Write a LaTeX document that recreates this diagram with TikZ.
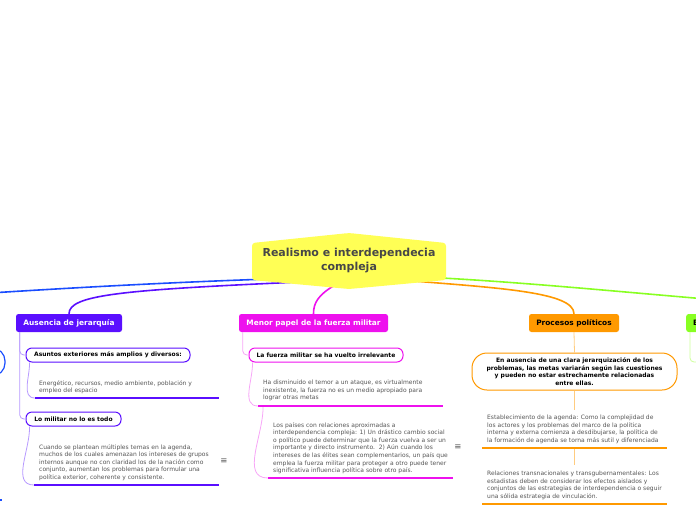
\documentclass[tikz,border=0pt]{standalone}
\usepackage{fontspec}
\setmainfont{DejaVu Sans}

\definecolor{amarillo}{HTML}{FFFF55}
\definecolor{azul}{HTML}{1A4DFF}
\definecolor{morado}{HTML}{5A0FFF}
\definecolor{moradoclaro}{HTML}{B79AFF}
\definecolor{fucsia}{HTML}{EE11EE}
\definecolor{fucsiaclaro}{HTML}{F7A6F7}
\definecolor{naranja}{HTML}{FF9900}
\definecolor{naranjaclaro}{HTML}{FFCC80}
\definecolor{verde}{HTML}{88FF22}
\definecolor{verdeclaro}{HTML}{CCFF99}
\definecolor{gristexto}{HTML}{555555}
\definecolor{gristitulo}{HTML}{474747}

\begin{document}
\begin{tikzpicture}[x=1pt, y=-1pt,
    tema/.style={rounded corners=2.5, minimum height=18, inner sep=0,
        font=\fontsize{7.4}{8}\bfseries, text=white},
    sub/.style={draw, fill=white, rounded corners=6, line width=1,
        minimum height=14, inner sep=0, font=\fontsize{6}{7}\bfseries},
    texto/.style={anchor=north west, inner sep=0, align=left, text=gristexto,
        font=\fontsize{6}{7.6}\selectfont},
    icono/.style={inner sep=0, text=gristexto, font=\fontsize{8.5}{9}\selectfont},
    linea/.style={line width=2.4},
    rama/.style={line width=1.6},
    enlace/.style={line width=0.8, rounded corners=4}]

    % --- 画布大小 (696 x 520) ---
    \useasboundingbox (0,0) rectangle (696,520);
    \clip (0,0) rectangle (696,520);

    % --- 1. 主题节点 ---
    \node[tema, fill=morado, minimum width=106] (aus) at (69,323) {Ausencia de jerarquía};
    \node[tema, fill=fucsia, minimum width=149] (mil) at (313.5,323) {Menor papel de la fuerza militar};
    \node[tema, fill=naranja, text=black, minimum width=90] (proc) at (574,323) {Procesos políticos};
    \node[tema, fill=verde, text=black, anchor=west, align=left, text width=52, inner xsep=7] (est) at (686,323) {E};

    % --- 2. 子节点 ---
    \node[sub, draw=morado, minimum width=164] (s1) at (108,355) {Asuntos exteriores más amplios y diversos:};
    \node[sub, draw=morado, minimum width=95] (s2) at (73.5,419) {Lo militar no lo es todo};
    \node[sub, draw=fucsia, minimum width=154] (s3) at (326,355) {La fuerza militar se ha vuelto irrelevante};
    \node[sub, draw=naranja, minimum width=205, minimum height=37, rounded corners=15,
        align=center, font=\fontsize{6}{7.6}\bfseries] (s4) at (574.5,371.5)
        {En ausencia de una clara jerarquización de los\\problemas, las metas variarán según las cuestiones\\y pueden no estar estrechamente relacionadas\\entre ellas.};

    % --- 3. 说明文字 ---
    \node[texto] (t1) at (39,380) {Energético, recursos, medio ambiente, población y\\empleo del espacio};
    \node[texto] (t2) at (39,444) {Cuando se plantean múltiples temas en la agenda,\\muchos de los cuales amenazan los intereses de grupos\\internos aunque no con claridad los de la nación como\\conjunto, aumentan los problemas para formular una\\política exterior, coherente y consistente.};
    \node[texto] (t3) at (263,380) {Ha disminuido el temor a un ataque, es virtualmente\\inexistente, la fuerza no es un medio apropiado para\\lograr otras metas};
    \node[texto] (t4) at (273,422) {Los países con relaciones aproximadas a\\interdependencia compleja: 1) Un drástico cambio social\\o político puede determinar que la fuerza vuelva a ser un\\importante y directo instrumento.\ \ 2) Aún cuando los\\intereses de las élites sean complementarios, un país que\\emplea la fuerza militar para proteger a otro puede tener\\significativa influencia política sobre otro país.};
    \node[texto] (t5) at (487,415) {Establecimiento de la agenda: Como la complejidad de\\los actores y los problemas del marco de la política\\interna y externa comienza a desdibujarse, la política de\\la formación de agenda se torna más sutil y diferenciada};
    \node[texto] (t6) at (487,471) {Relaciones transnacionales y transgubernamentales: Los\\estadistas deben de considerar los efectos aislados y\\conjuntos de las estrategias de interdependencia o seguir\\una sólida estrategia de vinculación.};

    % 注释图标
    \node[icono] (m1) at (224,461) {≡};
    \node[icono] (m2) at (458,447) {≡};

    % --- 4. 下划线端点 ---
    \coordinate (u1a) at (35,398);  \coordinate (u1b) at (219,398);
    \coordinate (u2a) at (34,485);  \coordinate (u2b) at (219,485);
    \coordinate (u3a) at (258,406); \coordinate (u3b) at (443,406);
    \coordinate (u3s) at (263,406);
    \coordinate (u4a) at (268,478); \coordinate (u4b) at (453,478);
    \coordinate (u5a) at (482,448); \coordinate (u5b) at (667,448);
    \coordinate (u5m) at (574.5,449);
    \coordinate (u6a) at (482,504); \coordinate (u6b) at (667,504);
    \coordinate (c5) at (574.5,410);
    \coordinate (c6) at (574.5,465);
    \coordinate (fueraIzq) at (-10,293);
    \coordinate (fueraDer) at (706,299);
    \coordinate (fueraVerde) at (706,362);

    % --- 5. 细连线 ---
    \draw[enlace, moradoclaro] ([xshift=4]aus.south west) |- (s1.west);
    \draw[enlace, moradoclaro] ([xshift=4]aus.south west) |- (s2.west);
    \draw[enlace, moradoclaro] ([xshift=4]s1.south west) to[out=-88, in=180] (u1a);
    \draw[enlace, moradoclaro] ([xshift=4]s2.south west) to[out=-88, in=180] (u2a);
    \draw[enlace, fucsiaclaro] ([xshift=4]mil.south west) |- (s3.west);
    \draw[enlace, fucsiaclaro] ([xshift=4]s3.south west) to[out=-88, in=180] (u3a);
    \draw[enlace, fucsiaclaro] (u3s) to[out=-88, in=180] (u4a);
    \draw[enlace, naranjaclaro] (proc.south) -- (s4.north);
    \draw[enlace, naranjaclaro] (s4.south) -- (c5);
    \draw[enlace, naranjaclaro] (u5m) -- (c6);
    \draw[enlace, verdeclaro] ([xshift=4]est.south west) |- (fueraVerde);

    % 下划线
    \draw[linea, morado] (u1a) -- (u1b);
    \draw[linea, morado] (u2a) -- (u2b);
    \draw[linea, fucsia] (u3a) -- (u3b);
    \draw[linea, fucsia] (u4a) -- (u4b);
    \draw[linea, naranja] (u5a) -- (u5b);
    \draw[linea, naranja] (u6a) -- (u6b);

    % 左边被裁掉的蓝色分支
    \draw[azul, line width=1.2, rounded corners=13] (-60,348) rectangle (5,376);
    \draw[linea, azul] (-20,500) -- (2,500);

    % --- 6. 中心到主题的粗线 ---
    \draw[rama, azul] (300,278) .. controls (200,281) and (100,286) .. (fueraIzq);
    \draw[rama, morado] (300,282) .. controls (120,290) and (69,295) .. (aus.north);
    \draw[rama, fucsia] (335,285) .. controls (318,295) and (313.5,303) .. (mil.north);
    \draw[rama, naranja] (400,280) .. controls (500,288) and (574,292) .. (proc.north);
    \draw[rama, verde] (400,276) .. controls (500,280) and (600,290) .. (fueraDer);

    % --- 7. 中心节点 ---
    \fill[amarillo, rounded corners=3] (252,243) -- (349,233) -- (446,243)
        -- (446,280) -- (349,289) -- (252,280) -- cycle;
    \node[align=center, inner sep=0, text=gristitulo,
        font=\fontsize{11}{14}\bfseries] (root) at (349,261)
        {Realismo e interdependecia\\compleja};

\end{tikzpicture}
\end{document}
